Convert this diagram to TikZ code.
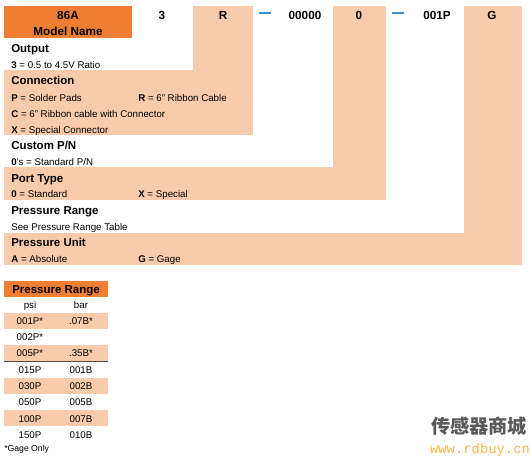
\documentclass[tikz,border=0pt]{standalone}
\usepackage{fontspec}
\usepackage{xcolor}
\setmainfont{Liberation Sans}
\newfontfamily\cnfont{Noto Sans CJK SC}
\newfontfamily\monofont{Liberation Mono}
\usetikzlibrary{positioning}
\definecolor{headorange}{HTML}{F07F33}
\definecolor{bandpeach}{HTML}{F7CBAC}
\definecolor{dashblue}{HTML}{3F8FCB}
\definecolor{markorange}{HTML}{FBB44A}

\begin{document}
\begin{tikzpicture}[
  x=0.75pt, y=-0.75pt,
  headfill/.style={fill=headorange},
  bandfill/.style={fill=bandpeach},
  codelabel/.style={font=\fontsize{8.8}{10}\bfseries\selectfont, inner sep=0pt, anchor=mid, yshift=-0.4pt},
  title/.style={font=\fontsize{8.6}{10}\bfseries\selectfont, inner sep=0pt, anchor=mid west, yshift=-0.4pt},
  entry/.style={font=\fontsize{7.3}{9}\selectfont, inner sep=0pt, anchor=mid west, yshift=-0.3pt},
  cell/.style={font=\fontsize{7.3}{9}\selectfont, inner sep=0pt, anchor=mid},
  dashbar/.style={fill=dashblue, inner sep=0pt, minimum width=8.5pt, minimum height=1.5pt}
]
\useasboundingbox (0,0) rectangle (530,457);
% bands and columns
\fill[bandfill] (193,6) rectangle (253,135);
\fill[bandfill] (333,6) rectangle (386,200);
\fill[bandfill] (464,6) rectangle (522,265);
\fill[bandfill] (4,70) rectangle (253,135);
\fill[bandfill] (4,167) rectangle (386,200);
\fill[bandfill] (4,233) rectangle (522,265);
\fill[headfill] (4,6) rectangle (132,38);
% part number row
\node[codelabel] (codeName) at (68,15) {86A};
\node[codelabel] (modelName) at (68,31) {Model Name};
\node[codelabel] (codeOutput) at (162,15) {3};
\node[codelabel] (codeConn) at (223,15) {R};
\node[dashbar] (dashA) at (265,13) {};
\node[codelabel] (codeCustom) at (305,15) {00000};
\node[codelabel] (codePort) at (359,15) {0};
\node[dashbar] (dashB) at (398,13) {};
\node[codelabel] (codeRange) at (437,15) {001P};
\node[codelabel] (codeUnit) at (492,15) {G};
% option text
\node[title] (tOutput) at (11,48) {Output};
\node[entry] (eOutput) at (11,65) {\textbf{3} = 0.5 to 4.5V Ratio};
\node[title] (tConn) at (11,80) {Connection};
\node[entry] (eConnP) at (11,98) {\textbf{P} = Solder Pads};
\node[entry] (eConnR) at (138,98) {\textbf{R} = 6" Ribbon Cable};
\node[entry] (eConnC) at (11,114) {\textbf{C} = 6" Ribbon cable with Connector};
\node[entry] (eConnX) at (11,130) {\textbf{X} = Special Connector};
\node[title] (tCustom) at (11,145) {Custom P/N};
\node[entry] (eCustom) at (11,162) {\textbf{0}'s = Standard P/N};
\node[title] (tPort) at (11,178) {Port Type};
\node[entry] (ePort0) at (11,194) {\textbf{0} = Standard};
\node[entry] (ePortX) at (138,194) {\textbf{X} = Special};
\node[title] (tRange) at (11,210) {Pressure Range};
\node[entry] (eRange) at (11,227) {See Pressure Range Table};
\node[title] (tUnit) at (11,242) {Pressure Unit};
\node[entry] (eUnitA) at (11,259) {\textbf{A} = Absolute};
\node[entry] (eUnitG) at (138,259) {\textbf{G} = Gage};
% pressure range table
\fill[headfill] (4,281) rectangle (108,297);
\foreach \ytop in {313,345,378,410}
  \fill[bandfill] (4,\ytop) rectangle (108,\ytop+16);
\draw[black!70, line width=0.6pt] (4,361) -- (108,361);
\node[title, anchor=mid] (tableHead) at (56,289) {Pressure Range};
\foreach \n/\ypos/\psival/\barval in {0/305/psi/bar, 1/321/001P*/.07B*, 2/337/002P*/, 3/353/005P*/.35B*,
    4/370/015P/001B, 5/386/030P/002B, 6/402/050P/005B, 7/419/100P/007B, 8/435/150P/010B}
{
  \node[cell] (psi\n) at (30,\ypos) {\psival};
  \node[cell] (bar\n) at (81,\ypos) {\barval};
}
\node[entry, font=\fontsize{6.5}{8}\selectfont] (gageNote) at (4,448) {*Gage Only};
% watermark
\node[inner sep=0pt, anchor=mid, text=black!65, font=\fontsize{14.4}{16}\cnfont\bfseries] (markCn) at (479,430) {传感器商城};
\node[inner sep=0pt, anchor=mid, text=markorange, font=\fontsize{10.4}{12}\monofont] (markUrl) at (480,450) {www.rdbuy.cn};
\end{tikzpicture}
\end{document}
